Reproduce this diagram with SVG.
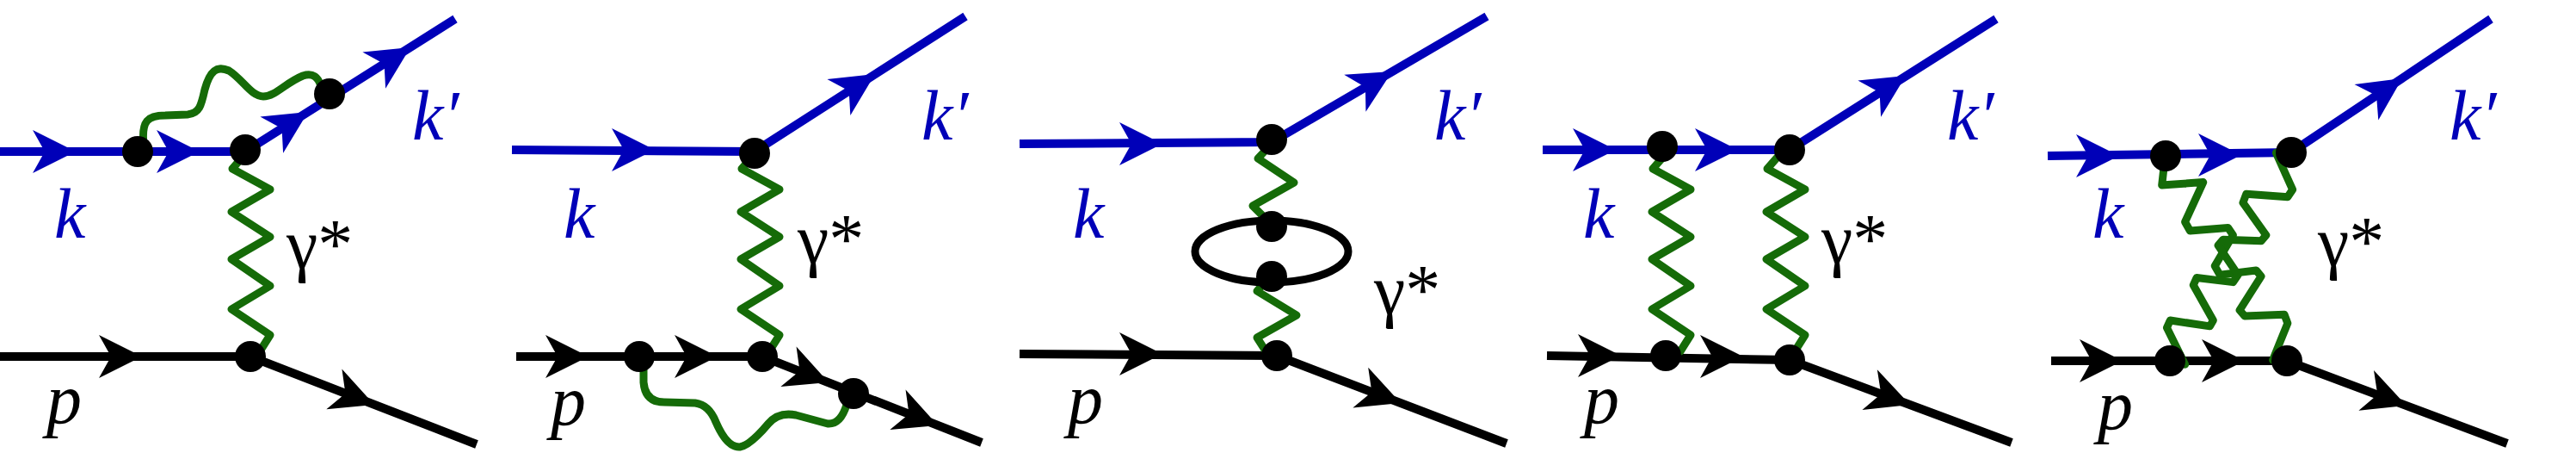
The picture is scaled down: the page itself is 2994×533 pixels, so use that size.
<svg xmlns="http://www.w3.org/2000/svg" xmlns:xlink="http://www.w3.org/1999/xlink" width="2994" height="533" viewBox="0 0 2994 533">
<style>
.bl{stroke:#0000b8;stroke-width:10;fill:none}
.bk{stroke:#000;stroke-width:10;fill:none}
.gr{stroke:#156b08;stroke-width:9;fill:none;stroke-linejoin:round;stroke-linecap:round}
.ns{vector-effect:non-scaling-stroke}
.ab{fill:#0000b8}
.ak{fill:#000}
text{font-family:"Liberation Serif","Times New Roman","DejaVu Serif",serif;font-size:82px}
.lk{font-style:italic;fill:#0000b8}
.lp{font-style:italic;fill:#000}
.lg{font-style:normal;fill:#000}
.dot{fill:#000}
</style>
<defs>
<path id="arr" d="M0,0 L-50,-25 L-36,0 L-50,25 Z"/>
<path id="wig" d="M-1,180 L-15,196 L29,220 L-16,246 L29,275 L-16,301 L29,332 L-16,359 L29,389 L17,408"/>
</defs>
<g id="connectors">
<path class="bl" d="M0,176 L285,176 L529,22"/>
<path class="bk" d="M0,414 L291,414 L554,516"/>
<use href="#arr" class="ab" transform="translate(88,176)"/>
<use href="#arr" class="ab" transform="translate(232,176)"/>
<use href="#arr" class="ab" transform="translate(358,130) rotate(-32.3)"/>
<use href="#arr" class="ab" transform="translate(477,55) rotate(-32.3)"/>
<use href="#arr" class="ak" transform="translate(165,414)"/>
<use href="#arr" class="ak" transform="translate(435,470) rotate(21.2)"/>
<use href="#wig" class="gr" transform="translate(285,0)"/>
<path class="gr" d="M167,168 C164,140 172,134 192,134 L218,133 C232,132 234,122 238,104 C244,82 252,76 266,82 C282,92 292,112 306,112 C320,112 332,96 352,88 C364,84 370,90 373,100"/>
<path class="bl" d="M595,174 L877,176 L1122,19"/>
<path class="bk" d="M600,414 L886,414 L1141,514"/>
<use href="#arr" class="ab" transform="translate(761,174)"/>
<use href="#arr" class="ab" transform="translate(1017,86) rotate(-32.6)"/>
<use href="#arr" class="ak" transform="translate(684,414)"/>
<use href="#arr" class="ak" transform="translate(834,414)"/>
<use href="#arr" class="ak" transform="translate(963,444) rotate(21.4)"/>
<use href="#arr" class="ak" transform="translate(1090,494) rotate(21.4)"/>
<use href="#wig" class="gr" transform="translate(877,0)"/>
<path class="gr" d="M748,420 L748,444 Q750,467 772,467 L808,468 Q824,470 832,490 Q845,520 860,519 Q872,517 893,492 Q905,478 925,482 L962,492 Q977,493 984,470"/>
<path class="bl" d="M1185,167 L1478,165 L1728,19"/>
<path class="bk" d="M1185,411 L1484,413 L1751,515"/>
<use href="#arr" class="ab" transform="translate(1351,167)"/>
<use href="#arr" class="ab" transform="translate(1618,83) rotate(-30.3)"/>
<use href="#arr" class="ak" transform="translate(1351,411)"/>
<use href="#arr" class="ak" transform="translate(1628,468) rotate(20.9)"/>
<path class="gr" d="M1478,167 L1462,184 L1504,212 L1456,239 L1476,259"/>
<path class="gr" d="M1478,319 L1461,338 L1507,366 L1461,392 L1470,406"/>
<ellipse cx="1478" cy="292" rx="89" ry="36" fill="none" stroke="#000" stroke-width="9"/>
<path class="bl" d="M1793,174 L2080,174 L2320,22"/>
<path class="bk" d="M1798,413 L2080,418 L2338,514"/>
<use href="#arr" class="ab" transform="translate(1878,174)"/>
<use href="#arr" class="ab" transform="translate(2020,174)"/>
<use href="#arr" class="ab" transform="translate(2215,88) rotate(-32.3)"/>
<use href="#arr" class="ak" transform="translate(1884,413)"/>
<use href="#arr" class="ak" transform="translate(2026,414)"/>
<use href="#arr" class="ak" transform="translate(2220,470) rotate(20.4)"/>
<use href="#wig" class="gr" transform="translate(1936,0)"/>
<use href="#wig" class="gr" transform="translate(2069,0)"/>
<path class="bl" d="M2380,181 L2663,177 L2895,22"/>
<path class="bk" d="M2384,419 L2658,419 L2914,515"/>
<use href="#arr" class="ab" transform="translate(2463,181)"/>
<use href="#arr" class="ab" transform="translate(2605,180)"/>
<use href="#arr" class="ab" transform="translate(2792,91) rotate(-33.7)"/>
<use href="#arr" class="ak" transform="translate(2467,419)"/>
<use href="#arr" class="ak" transform="translate(2609,419)"/>
<use href="#arr" class="ak" transform="translate(2797,471) rotate(20.6)"/>
<g transform="translate(2380,0) scale(0.3846,0.3413)">
<path class="gr ns" d="M350,580 L345,630 L470,620 L415,755 L430,785 L545,775 L560,800 L505,905 L520,935 L630,920 L645,940 L580,1055 L595,1075 L715,1070 L725,1100 L680,1225"/>
<path class="gr ns" d="M690,520 L740,645 L725,670 L600,660 L590,690 L660,800 L645,820 L530,815 L515,835 L575,935 L560,960 L450,945 L440,970 L500,1090 L490,1110 L370,1090 L360,1115 L415,1240"/>
</g>
</g>
<g id="p1"><circle class="dot" cx="160" cy="176" r="18"/><circle class="dot" cx="285" cy="174" r="18"/><circle class="dot" cx="383" cy="109" r="18"/><circle class="dot" cx="291" cy="414" r="18"/>
<text class="lk" x="63" y="276">k</text><text class="lk" x="479" y="162">k′</text><text class="lg" x="333" y="311">γ*</text><text class="lp" x="54" y="491">p</text></g>
<g id="p2"><circle class="dot" cx="877" cy="178" r="18"/><circle class="dot" cx="743" cy="414" r="18"/><circle class="dot" cx="886" cy="414" r="18"/><circle class="dot" cx="992" cy="457" r="18"/>
<text class="lk" x="655" y="276">k</text><text class="lk" x="1071" y="162">k′</text><text class="lg" x="927" y="305">γ*</text><text class="lp" x="640" y="493">p</text></g>
<g id="p3"><circle class="dot" cx="1478" cy="162" r="18"/><circle class="dot" cx="1478" cy="263" r="18"/><circle class="dot" cx="1478" cy="321" r="18"/><circle class="dot" cx="1484" cy="413" r="18"/>
<text class="lk" x="1247" y="276">k</text><text class="lk" x="1667" y="162">k′</text><text class="lg" x="1597" y="364">γ*</text><text class="lp" x="1241" y="491">p</text></g>
<g id="p4"><circle class="dot" cx="1932" cy="170" r="18"/><circle class="dot" cx="2080" cy="174" r="18"/><circle class="dot" cx="1936" cy="413" r="18"/><circle class="dot" cx="2080" cy="418" r="18"/>
<text class="lk" x="1840" y="276">k</text><text class="lk" x="2263" y="162">k′</text><text class="lg" x="2117" y="305">γ*</text><text class="lp" x="1841" y="491">p</text></g>
<g id="p5"><circle class="dot" cx="2517" cy="181" r="18"/><circle class="dot" cx="2663" cy="177" r="18"/><circle class="dot" cx="2522" cy="419" r="18"/><circle class="dot" cx="2658" cy="419" r="18"/>
<text class="lk" x="2432" y="276">k</text><text class="lk" x="2847" y="162">k′</text><text class="lg" x="2694" y="308">γ*</text><text class="lp" x="2438" y="498">p</text></g>
</svg>
